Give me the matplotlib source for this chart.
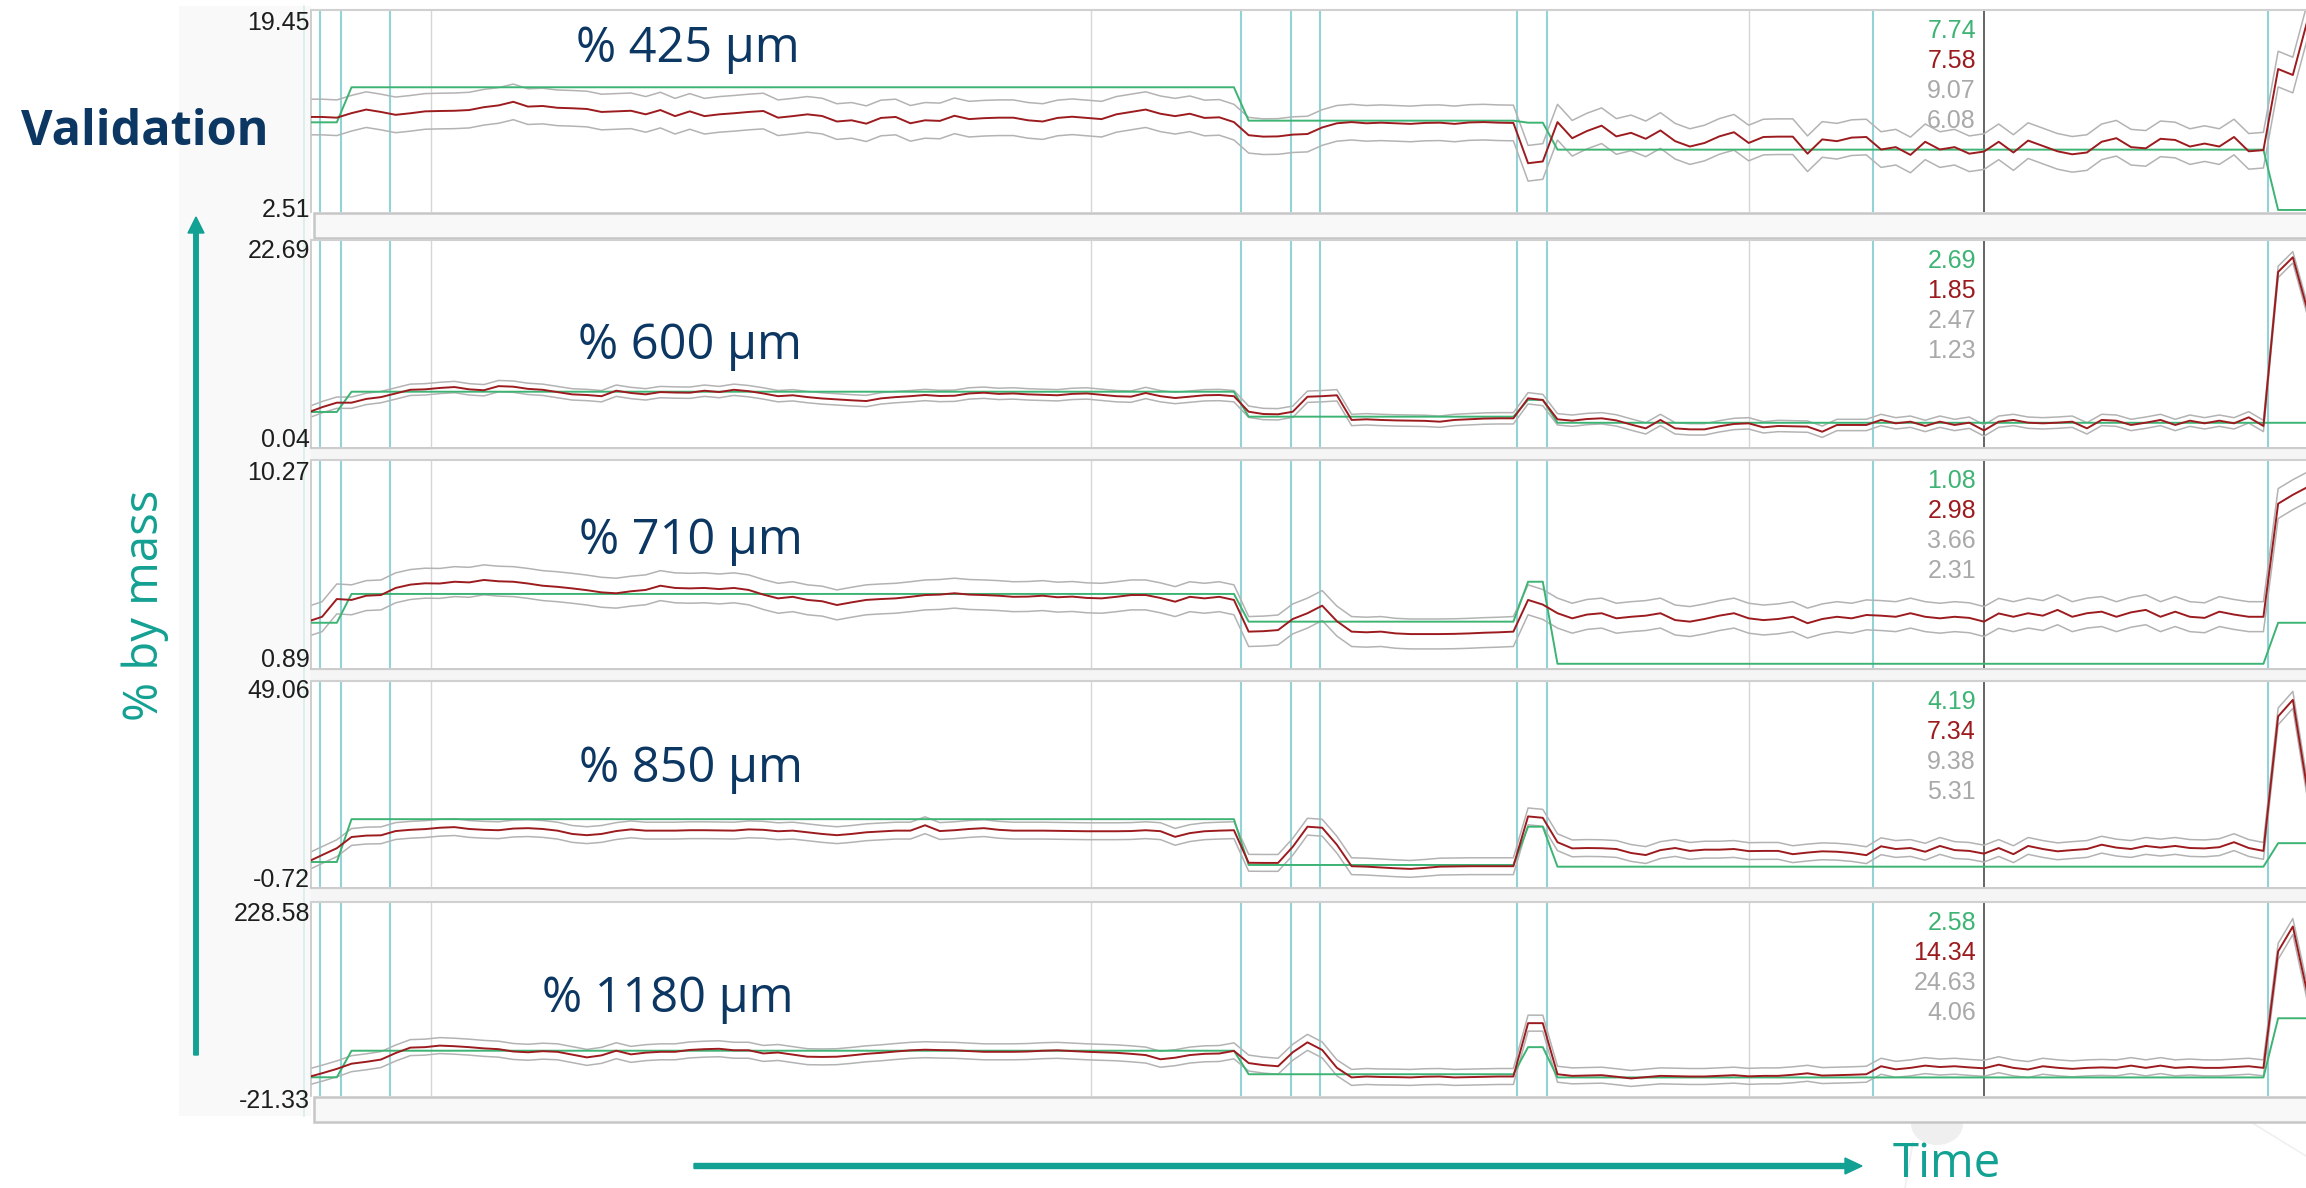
import numpy as np
import matplotlib
matplotlib.use("Agg")
import matplotlib.pyplot as plt
from matplotlib.patches import Rectangle, FancyArrow, Ellipse

plt.rcParams["font.family"] = ["Open Sans", "DejaVu Sans"]

# ---------------------------------------------------------------- data
time_min = np.arange(137)

size_labels = ["% 425 µm", "% 600 µm", "% 710 µm", "% 850 µm", "% 1180 µm"]
y_low = [2.51, 0.04, 0.89, -0.72, -21.33]
y_high = [19.45, 22.69, 10.27, 49.06, 228.58]

# reference (lab) value: piecewise constant, number of samples per segment
ref_segment_len = [3, 61, 19, 2, 49, 3]
ref_425 = [10.03, 12.97, 10.17, 10.00, 7.74, 2.68]
ref_600 = [3.87, 6.09, 3.36, 5.20, 2.69, 2.69]
ref_710 = [2.93, 4.23, 2.98, 4.78, 1.08, 2.93]
ref_850 = [5.32, 15.67, 4.60, 13.85, 4.19, 9.87]
ref_1180 = [2.80, 37.00, 6.70, 41.60, 2.58, 78.80]

# model prediction, one value per minute
pred_425 = [
    10.48, 10.48, 10.42, 10.80, 11.10, 10.90, 10.66, 10.79, 10.95, 10.98,
    11.00, 11.06, 11.30, 11.45, 11.75, 11.35, 11.40, 11.25, 11.21, 11.15,
    10.90, 10.95, 11.00, 10.70, 11.06, 10.55, 10.95, 10.55, 10.70, 10.79,
    10.90, 10.98, 10.42, 10.55, 10.70, 10.56, 10.10, 10.20, 9.92, 10.40,
    10.48, 9.95, 10.20, 10.15, 10.58, 10.30, 10.38, 10.42, 10.42, 10.20,
    10.10, 10.40, 10.50, 10.40, 10.30, 10.70, 10.90, 11.10, 10.75, 10.55,
    10.75, 10.40, 10.45, 10.05, 8.95, 8.83, 8.85, 9.00, 9.05, 9.60,
    9.95, 10.05, 9.95, 10.00, 9.95, 9.90, 9.98, 10.00, 9.90, 10.02,
    10.05, 10.00, 9.98, 6.60, 6.75, 10.05, 8.70, 9.30, 9.75, 8.85,
    9.15, 8.65, 9.35, 8.45, 8.00, 8.30, 8.85, 9.20, 8.30, 8.80,
    8.83, 8.83, 7.40, 8.60, 8.45, 8.75, 8.80, 7.75, 7.95, 7.30,
    8.40, 7.75, 7.95, 7.40, 7.58, 8.40, 7.50, 8.50, 8.05, 7.60,
    7.35, 7.50, 8.40, 8.70, 7.95, 7.85, 8.65, 8.55, 8.00, 8.25,
    8.00, 8.80, 7.60, 7.70, 14.50, 14.00, 18.60,
]
pred_600 = [
    3.79, 4.40, 4.89, 4.89, 5.30, 5.50, 5.90, 6.30, 6.35, 6.50,
    6.60, 6.35, 6.25, 6.70, 6.64, 6.40, 6.30, 6.05, 5.80, 5.73,
    5.60, 6.20, 5.95, 5.80, 6.05, 6.00, 5.98, 6.20, 6.05, 6.30,
    6.15, 5.90, 5.60, 5.70, 5.50, 5.35, 5.25, 5.15, 5.07, 5.36,
    5.50, 5.60, 5.73, 5.62, 5.65, 5.90, 5.98, 5.85, 5.90, 5.80,
    5.75, 5.70, 5.85, 5.90, 5.75, 5.60, 5.55, 5.95, 5.60, 5.40,
    5.55, 5.70, 5.73, 5.60, 3.90, 3.65, 3.62, 3.90, 5.54, 5.60,
    5.70, 3.00, 3.07, 3.00, 2.95, 2.92, 2.90, 2.81, 3.00, 3.07,
    3.15, 3.18, 3.18, 5.37, 5.18, 3.07, 2.92, 3.10, 3.18, 2.95,
    2.50, 2.08, 3.00, 2.08, 1.97, 1.97, 2.30, 2.56, 2.63, 2.19,
    2.34, 2.30, 2.27, 1.71, 2.45, 2.45, 2.45, 3.00, 2.63, 2.81,
    2.34, 2.81, 2.45, 2.70, 1.85, 2.81, 3.00, 2.70, 2.63, 2.70,
    2.81, 2.08, 3.00, 2.92, 2.45, 2.70, 3.00, 2.45, 2.92, 2.63,
    2.92, 2.63, 3.29, 2.34, 19.20, 20.80, 15.00,
]
pred_710 = [
    2.98, 3.20, 4.00, 3.96, 4.15, 4.18, 4.50, 4.65, 4.71, 4.70,
    4.78, 4.75, 4.86, 4.80, 4.78, 4.70, 4.60, 4.55, 4.48, 4.40,
    4.30, 4.26, 4.35, 4.41, 4.60, 4.50, 4.48, 4.50, 4.45, 4.50,
    4.41, 4.20, 4.03, 4.10, 3.96, 3.90, 3.73, 3.85, 3.96, 4.00,
    4.03, 4.10, 4.18, 4.20, 4.26, 4.20, 4.18, 4.15, 4.10, 4.11,
    4.15, 4.08, 4.11, 4.05, 4.03, 4.10, 4.18, 4.18, 4.05, 3.88,
    4.10, 4.03, 4.10, 3.96, 2.53, 2.55, 2.60, 3.10, 3.36, 3.70,
    3.00, 2.53, 2.50, 2.53, 2.45, 2.42, 2.42, 2.42, 2.43, 2.45,
    2.48, 2.50, 2.53, 3.96, 3.75, 3.36, 3.13, 3.30, 3.36, 3.13,
    3.20, 3.25, 3.36, 3.05, 2.98, 3.10, 3.25, 3.36, 3.13, 3.05,
    3.10, 3.20, 2.91, 3.10, 3.20, 3.13, 3.28, 3.25, 3.20, 3.36,
    3.20, 3.13, 3.20, 3.15, 2.98, 3.35, 3.20, 3.36, 3.25, 3.51,
    3.20, 3.36, 3.43, 3.20, 3.40, 3.51, 3.20, 3.43, 3.20, 3.15,
    3.43, 3.30, 3.20, 3.20, 8.30, 8.70, 9.05,
]
pred_850 = [
    5.32, 7.00, 8.65, 11.36, 11.70, 11.77, 12.80, 13.10, 13.27, 13.60,
    13.75, 13.30, 13.10, 13.00, 13.40, 13.50, 13.30, 12.90, 12.10, 11.80,
    12.10, 12.80, 13.20, 12.90, 12.90, 12.90, 13.00, 13.00, 12.95, 12.90,
    13.20, 13.10, 12.75, 12.90, 12.50, 12.10, 11.80, 12.10, 12.50, 12.70,
    12.90, 12.90, 14.20, 12.80, 13.00, 13.30, 13.50, 13.10, 12.90, 12.90,
    12.90, 12.85, 12.80, 12.75, 12.75, 12.75, 12.80, 13.00, 12.77, 11.40,
    12.30, 12.75, 12.90, 13.00, 5.13, 5.10, 5.10, 9.00, 13.85, 13.60,
    9.50, 4.30, 4.20, 4.00, 3.80, 3.65, 3.90, 4.20, 4.25, 4.30,
    4.30, 4.30, 4.30, 16.34, 16.00, 10.10, 8.61, 8.70, 8.65, 8.46,
    7.50, 7.00, 8.20, 8.70, 8.00, 8.30, 8.30, 8.46, 7.95, 8.00,
    8.00, 7.21, 7.60, 7.90, 7.80, 7.50, 6.97, 9.12, 8.46, 8.70,
    7.80, 9.20, 8.20, 8.00, 7.34, 8.70, 7.21, 9.20, 8.46, 7.90,
    8.20, 8.46, 9.50, 8.80, 8.46, 9.20, 8.80, 9.20, 8.70, 8.61,
    8.90, 10.11, 8.70, 8.00, 40.50, 44.50, 22.50,
]
pred_1180 = [
    2.80, 8.00, 13.60, 20.30, 22.70, 25.60, 34.00, 41.00, 41.60, 43.60,
    42.80, 41.60, 40.00, 39.00, 36.00, 35.00, 36.40, 35.60, 32.00, 28.40,
    31.00, 37.00, 32.30, 34.50, 35.60, 35.60, 38.00, 39.00, 39.50, 37.60,
    37.60, 33.50, 34.70, 32.00, 29.30, 29.00, 29.30, 31.00, 33.00, 34.30,
    36.00, 37.50, 38.30, 37.80, 37.50, 36.50, 35.60, 35.60, 35.60, 36.00,
    37.00, 37.50, 36.50, 35.60, 35.00, 34.30, 33.00, 31.40, 26.00, 28.00,
    31.40, 33.00, 33.40, 36.80, 21.10, 18.50, 17.00, 35.00, 47.80, 38.00,
    15.00, 2.60, 3.80, 3.20, 3.00, 2.60, 3.50, 3.80, 2.60, 3.00,
    3.50, 3.80, 3.80, 72.50, 72.50, 6.70, 4.60, 5.00, 5.50, 3.50,
    1.30, 3.00, 4.60, 4.20, 3.80, 3.80, 4.60, 5.50, 4.00, 4.60,
    4.60, 6.00, 7.90, 5.00, 5.50, 6.00, 6.70, 17.00, 13.00, 14.90,
    17.80, 16.00, 17.00, 15.50, 14.34, 19.00, 14.90, 12.80, 17.00, 15.00,
    13.60, 14.90, 15.50, 14.90, 17.80, 14.90, 17.80, 14.90, 16.00, 14.90,
    14.90, 16.00, 17.00, 14.90, 165.00, 197.00, 110.00,
]

# prediction interval half-widths (above / below the prediction)
band_up = [1.49, 0.62, 0.68, 2.04, 10.29]
band_dn = [1.50, 0.62, 0.67, 2.03, 10.28]

# event markers on the time axis (minutes)
phase_marks = [0.86, 2.28, 5.62, 63.5, 66.9, 68.84, 82.24, 84.28, 106.45, 133.3]
grid_marks = [8.4, 53.3, 98.0]
cursor_t = 114

refs = [ref_425, ref_600, ref_710, ref_850, ref_1180]
preds = [pred_425, pred_600, pred_710, pred_850, pred_1180]

# ---------------------------------------------------------------- style
NAVY = "#0c3763"
TEAL = "#13a193"
RED = "#9c1b1f"
GREEN = "#3db374"
GREY_LINE = "#b3b3b3"
GREY_TXT = "#a9a9a9"
CYAN = "#93d3d5"
GRID = "#d6d6d6"

W, H = 2306, 1188
fig = plt.figure(figsize=(W / 100, H / 100), dpi=100)
fig.patch.set_facecolor("white")

# pixel-space layers behind and above the panels
bg = fig.add_axes([0, 0, 1, 1], zorder=-1)
bg.set_xlim(0, W)
bg.set_ylim(H, 0)
bg.axis("off")
ov = fig.add_axes([0, 0, 1, 1], zorder=10)
ov.set_xlim(0, W)
ov.set_ylim(H, 0)
ov.axis("off")
ov.patch.set_visible(False)

panel_px = [(10, 212), (240, 447), (460, 668), (681, 887), (902, 1096)]
x_left, x_right = 311, 2330
x0_px, px_per_min = 307.4, 14.707
t_lo = (x_left - x0_px) / px_per_min
t_hi = (x_right - x0_px) / px_per_min

# light strip behind the axis limits
bg.add_patch(Rectangle((179, 6), x_left - 179, 1110, facecolor="#f9f9f9",
                       edgecolor="none", zorder=0))
bg.plot([304, 304], [6, 1116], color="#d3ecec", lw=1.1, zorder=1)

# faint backdrop shapes under the bottom bar
bg.add_patch(Ellipse((1937, 1124), 52, 42, facecolor="#efefef",
                     edgecolor="none", zorder=0))
bg.plot([1913, 1905], [1142, 1188], color="#f0f0f0", lw=1.2, zorder=0)
bg.plot([2254, 2306], [1124, 1156], color="#f0f0f0", lw=1.2, zorder=0)

# scroll bars under the first and last panel
for y0 in (212, 1096):
    bg.add_patch(Rectangle((314, y0 + 1), 2100, 25, facecolor="#f8f8f8",
                           edgecolor="#c6c6c6", lw=1.8, zorder=2))
# separators between the middle panels
for y0, y1 in ((447, 460), (668, 681), (887, 902)):
    bg.add_patch(Rectangle((x_left, y0), 2100, y1 - y0, facecolor="#f5f5f5",
                           edgecolor="none", zorder=2))
    bg.plot([x_left, W], [y0 + 1, y0 + 1], color="#cccccc", lw=1.6, zorder=3)

# axis arrows and their labels
bg.add_patch(FancyArrow(196, 1055, 0, 217 - 1055, width=4.5, head_width=16,
                        head_length=16, length_includes_head=True,
                        color=TEAL, zorder=3))
bg.add_patch(FancyArrow(694, 1166, 1862 - 694, 0, width=5, head_width=16,
                        head_length=17, length_includes_head=True,
                        color=TEAL, zorder=3))
ov.text(145, 605, "% by mass", rotation=90, ha="center", va="center",
        fontsize=34, color=TEAL, family=["Open Sans", "DejaVu Sans"])
ov.text(1893, 1177, "Time", ha="left", va="baseline", fontsize=34,
        color=TEAL, family=["Open Sans", "DejaVu Sans"])
ov.text(21, 145, "Validation", ha="left", va="baseline", fontsize=35,
        fontweight="bold", color=NAVY, family=["Open Sans", "DejaVu Sans"])

title_xy = [(576, 62), (578, 359), (579, 554), (579, 782), (542, 1012)]
top_base = [30, 258, 480, 698, 921]
bot_base = [217, 447, 667, 887, 1108]

for i, (top, bot) in enumerate(panel_px):
    ax = fig.add_axes([x_left / W, 1 - bot / H, (x_right - x_left) / W,
                       (bot - top) / H], zorder=1)
    ax.set_facecolor("white")
    ax.set_xlim(t_lo, t_hi)
    ax.set_ylim(y_low[i], y_high[i])
    ax.set_xticks([])
    ax.set_yticks([])
    for side in ("right", "bottom"):
        ax.spines[side].set_visible(False)
    ax.spines["left"].set_color("#c6c6c6")
    ax.spines["left"].set_linewidth(1.2)
    ax.spines["top"].set_color("#d0d0d0")
    ax.spines["top"].set_linewidth(1.5)

    for t in phase_marks:
        ax.axvline(t, color=CYAN, lw=1.5, zorder=1)
    for t in grid_marks:
        ax.axvline(t, color=GRID, lw=1.0, zorder=1)
    ax.axvline(cursor_t, color="#3a3a3a", lw=1.1, zorder=1)

    pred = np.array(preds[i])
    ref = np.repeat(refs[i], ref_segment_len)
    upper = pred + band_up[i]
    lower = pred - band_dn[i]
    ax.plot(time_min, upper, color=GREY_LINE, lw=1.1, zorder=2)
    ax.plot(time_min, lower, color=GREY_LINE, lw=1.1, zorder=2)
    ax.plot(time_min, ref, color=GREEN, lw=1.4, zorder=3)
    ax.plot(time_min, pred, color=RED, lw=1.4, zorder=4)

    k = int(np.where(time_min == cursor_t)[0][0])
    readouts = [(ref[k], GREEN), (pred[k], RED), (upper[k], GREY_TXT),
                (lower[k], GREY_TXT)]
    for j, (val, col) in enumerate(readouts):
        ax.annotate(f"{val:.2f}", xy=(cursor_t, 1.0),
                    xycoords=("data", "axes fraction"),
                    xytext=(-8, -(28 + 30 * j)), textcoords="offset pixels",
                    ha="right", va="baseline", fontsize=18, color=col,
                    family=["Liberation Sans", "DejaVu Sans"], zorder=6)

    # axis limits shown at the panel corners
    bg.text(310, top_base[i], f"{y_high[i]:.2f}", ha="right", va="baseline",
            fontsize=18, color="#1e1e1e", zorder=4,
            family=["Liberation Sans", "DejaVu Sans"])
    bg.text(310, bot_base[i], f"{y_low[i]:.2f}", ha="right", va="baseline",
            fontsize=18, color="#1e1e1e", zorder=4,
            family=["Liberation Sans", "DejaVu Sans"])

    ov.text(title_xy[i][0], title_xy[i][1], size_labels[i], ha="left",
            va="baseline", fontsize=35, color=NAVY,
            family=["Open Sans", "DejaVu Sans"])

fig.savefig("out.png", dpi=100, facecolor="white")
